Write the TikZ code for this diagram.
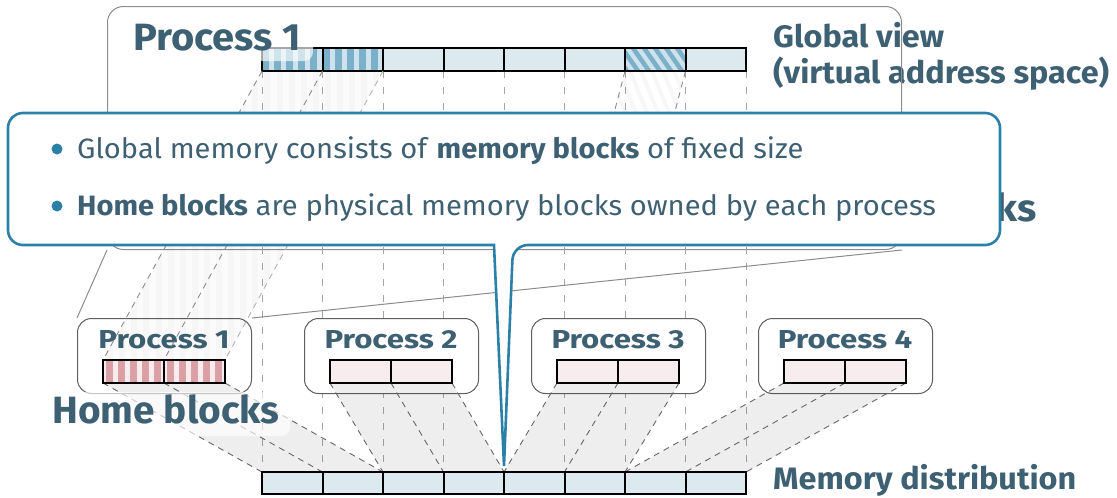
\documentclass[tikz,border=0pt]{standalone}
\usepackage{fontspec}
\setmainfont{Fira Sans}
\newfontfamily\bigfont{Fira Sans}[FakeStretch=1.05]
\newfontfamily\homefont{Fira Sans}[FakeStretch=1.02]
\newfontfamily\sidefont{Fira Sans}[FakeStretch=1.045]
\newfontfamily\procfont{Fira Sans}[FakeStretch=1.2]
\newfontfamily\bodyfont{Fira Sans}[FakeStretch=1.04]
\usetikzlibrary{calc}

\definecolor{ink}{RGB}{61,97,114}
\definecolor{accent}{RGB}{42,128,166}
\definecolor{blockblue}{RGB}{220,233,239}
\definecolor{lightblue}{RGB}{205,226,236}
\definecolor{stripeblue}{RGB}{122,176,200}
\definecolor{blockpink}{RGB}{247,237,238}
\definecolor{stripered}{RGB}{218,160,166}
\definecolor{guide}{RGB}{165,165,165}
\definecolor{frame}{RGB}{95,95,95}
\definecolor{zoomline}{RGB}{140,140,140}

\tikzset{
  blockedge/.style={draw=black, line width=2pt},
  guideline/.style={draw=guide, line width=0.9pt, dash pattern=on 7pt off 9pt},
  fanedge/.style={draw=black!60, line width=0.9pt, dash pattern=on 6pt off 5pt},
  fanfill/.style={fill=black, fill opacity=0.065},
  procbox/.style={draw=frame, line width=1pt, rounded corners=14pt, fill=white,
    minimum width=174pt, minimum height=75pt, anchor=north west, inner sep=0pt},
  callout/.style={draw=accent, line width=2.6pt, fill=white},
  bighead/.style={text=ink, font=\bigfont\bfseries\fontsize{38}{42}\selectfont, inner sep=0pt, anchor=base west},
  homehead/.style={text=ink, font=\homefont\bfseries\fontsize{38}{42}\selectfont, inner sep=0pt, anchor=base west},
  sidehead/.style={text=ink, font=\sidefont\bfseries\fontsize{31}{34}\selectfont, inner sep=0pt, anchor=base west},
  prochead/.style={text=ink, font=\procfont\bfseries\fontsize{26}{28}\selectfont, inner sep=0pt, anchor=base},
  bullettext/.style={text=ink, font=\bodyfont\fontsize{28}{31}\selectfont, inner sep=0pt, anchor=base west},
  bulletdot/.style={circle, fill=accent, minimum size=11pt, inner sep=0pt},
  labelbg/.style={fill=white, fill opacity=0.65, rounded corners=9pt},
}

\begin{document}
\begin{tikzpicture}[x=1pt, y=-1pt]
\useasboundingbox (0,0) rectangle (1117,498);

% ---- corner coordinates of the bars -------------------------------------
\foreach \i in {0,...,8} {
  \coordinate (gt\i) at ({262+60.5*\i},48);
  \coordinate (gb\i) at ({262+60.5*\i},71);
  \coordinate (mt\i) at ({262+60.5*\i},472);
  \coordinate (mb\i) at ({262+60.5*\i},494);
}
\foreach \k in {1,...,4} {
  \foreach \j in {0,1,2} {
    \coordinate (p\k t\j) at ({103+227*(\k-1)+61*\j},360);
    \coordinate (p\k b\j) at ({103+227*(\k-1)+61*\j},383);
  }
}

% ---- side titles (the enlarged frame runs across them) -------------------
\node[sidehead] (globaltitle) at (773,47) {Global view};
\node[sidehead] (globalsub) at (773,83) {(virtual address space)};

% ---- enlarged frame of process 1 -----------------------------------------
\node[draw=zoomline, line width=1pt, rounded corners=16pt, minimum width=794pt,
      minimum height=243pt, anchor=north west, inner sep=0pt] (zoomframe) at (107,6) {};

% ---- block boundary guides ------------------------------------------------
\foreach \i in {0,...,8} \draw[guideline] (gb\i) -- (mt\i);

% ---- process boxes ---------------------------------------------------------
\foreach \k in {1,...,4}
  \node[procbox] (proc\k) at ({77+227*(\k-1)},318) {};

\draw[zoomline, line width=1pt] (proc1.north west) -- (zoomframe.south west);
\draw[zoomline, line width=1pt] (proc1.north east) -- (zoomframe.south east);

% ---- home blocks mapped to the memory distribution ----------------------
\foreach \k/\m in {1/0, 2/2, 3/4, 4/6} {
  \pgfmathtruncatemacro{\mm}{\m+2}
  \pgfmathtruncatemacro{\mc}{\m+1}
  \fill[fanfill] (p\k b0) -- (p\k b2) -- (mt\mm) -- (mt\m) -- cycle;
  \draw[fanedge] (p\k b0) -- (mt\m);
  \draw[fanedge] (p\k b1) -- (mt\mc);
  \draw[fanedge] (p\k b2) -- (mt\mm);
}

% ---- shadow of the remote block --------------------------------------------
\coordinate (rs0) at (581,240);
\coordinate (rs1) at (641.5,240);
\begin{scope}
  \clip (gb6) -- (gb7) -- (rs1) -- (rs0) -- cycle;
  \foreach \s in {0,...,20}
    \draw[black, opacity=0.03, line width=4pt] ({520+11*\s},71) -- ({540+11*\s},120);
\end{scope}
\draw[fanedge, draw=black!45] (gb6) -- (rs0);
\draw[fanedge, draw=black!45] (gb7) -- (rs1);

% ---- global view bar -------------------------------------------------------
\fill[blockblue] (gt0) rectangle (gb8);
\fill[lightblue] (gt0) rectangle (gb2);
\foreach \s in {0,...,9}
  \fill[stripeblue] ({262+12.1*\s},48) rectangle ({262+12.1*\s+7},71);
\begin{scope}
  \clip (gt6) rectangle (gb7);
  \fill[lightblue] (gt6) rectangle (gb7);
  \foreach \s in {0,...,9}
    \draw[stripeblue, line width=4.5pt] ({600+11*\s},48) -- ({616+11*\s},71);
\end{scope}
\foreach \i in {1,...,7} \draw[blockedge] (gt\i) -- (gb\i);
\draw[blockedge] (gt0) rectangle (gb8);

% ---- memory distribution bar ----------------------------------------------
\fill[blockblue] (mt0) rectangle (mb8);
\foreach \i in {1,...,7} \draw[blockedge] (mt\i) -- (mb\i);
\draw[blockedge] (mt0) rectangle (mb8);

% ---- home blocks of each process ------------------------------------------
\foreach \k in {1,...,4} \fill[blockpink] (p\k t0) rectangle (p\k b2);
\foreach \s in {0,...,9}
  \fill[stripered] ({105.5+12.2*\s},360) rectangle ({105.5+12.2*\s+7},383);
\foreach \k in {1,...,4} {
  \draw[blockedge] (p\k t1) -- (p\k b1);
  \draw[blockedge] (p\k t0) rectangle (p\k b2);
  \node[prochead] (proclabel\k) at ({164+227*(\k-1)},348) {Process \k};
}

% ---- projection of process 1's home blocks into the global view ---------
\begin{scope}
  \clip (gb0) -- (gb2) -- (p1t2) -- (p1t0) -- cycle;
  \fill[black, opacity=0.015] (60,71) rectangle (400,360);
  \foreach \s in {0,...,30}
    \fill[black, opacity=0.02] ({95+12.1*\s},71) rectangle ({95+12.1*\s+6},360);
\end{scope}
\draw[fanedge, draw=black!45] (gb0) -- (p1t0);
\draw[fanedge, draw=black!45] (gb1) -- (p1t1);
\draw[fanedge, draw=black!30] (gb2) -- (p1t2);

% ---- titles ---------------------------------------------------------------
\fill[labelbg] (121,13) rectangle (313,61);
\node[bighead] (zoomtitle) at (133,50) {Process 1};
\fill[labelbg] (40,392) rectangle (290,436);
\node[homehead] (hometitle) at (52,423) {Home blocks};
\node[sidehead] (memtitle) at (773,489) {Memory distribution};
\node[bighead, anchor=base east] (rightlabel) at (1037,221) {ks};

% ---- callout -----------------------------------------------------------------
\coordinate (tip) at (504,466);
\draw[callout] (8,179) [rounded corners=15pt] |- (1000,113) |- (513,245)
  [sharp corners] -- (tip) -- (494,245) -- (400,245) [rounded corners=15pt] -| cycle;
\node[bulletdot] (dot1) at (57,149) {};
\node[bullettext] (line1) at (77,158) {Global memory consists of \textbf{memory blocks} of fixed size};
\node[bulletdot] (dot2) at (57,206) {};
\node[bullettext] (line2) at (77,215) {\textbf{Home blocks} are physical memory blocks owned by each process};
\end{tikzpicture}
\end{document}
